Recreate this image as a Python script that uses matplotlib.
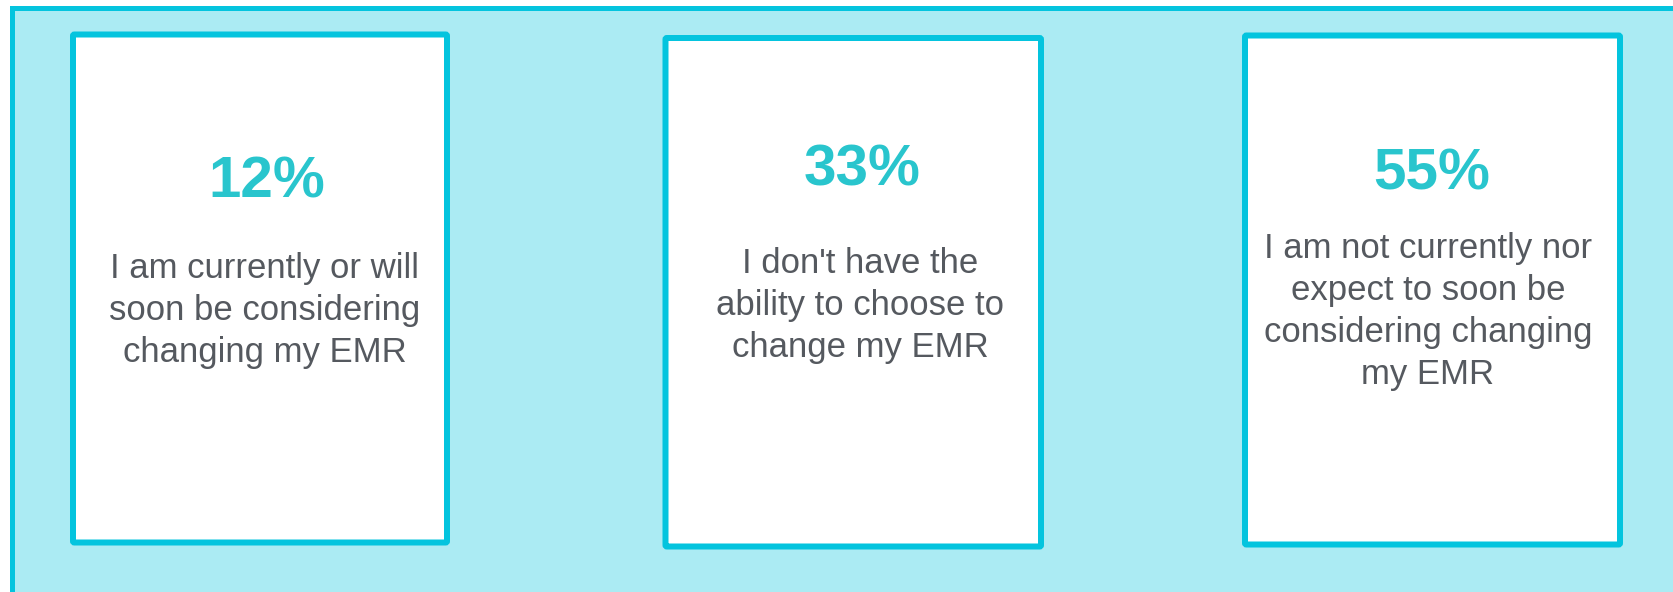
import matplotlib
matplotlib.use("Agg")
import matplotlib.pyplot as plt
from matplotlib.patches import Rectangle, FancyBboxPatch

# Data
percent_labels = ["12%", "33%", "55%"]
descriptions = [
    ["I am currently or will", "soon be considering", "changing my EMR"],
    ["I don't have the", "ability to choose to", "change my EMR"],
    ["I am not currently nor", "expect to soon be", "considering changing", "my EMR"],
]

# Layout (pixels, y down)
W, H = 1673, 592
DPI = 100
card_boxes = [(73, 34.5, 447, 542.5), (665.5, 38, 1041, 546.5), (1245, 35.5, 1620, 544.5)]
pct_cx = [267, 862, 1432]
desc_cx = [265, 860, 1428]
pct_baseline = [197, 185, 190]
desc_baseline = [278, 273, 258]
line_step = 42

BG = "#ABEBF3"
BORDER = "#04C4DE"
PCT = "#29C5CD"
TXT = "#55595F"

fig = plt.figure(figsize=(W / DPI, H / DPI), dpi=DPI)
fig.patch.set_facecolor("white")
ax = fig.add_axes([0, 0, 1, 1])
ax.set_xlim(0, W)
ax.set_ylim(H, 0)
ax.axis("off")

px = 72 / DPI  # points per pixel

# outer panel
ax.add_patch(Rectangle((12.5, 7.5), 1700, 586, facecolor=BG, edgecolor=BORDER,
                       linewidth=5 * px, joinstyle="miter"))

for i, (x0, y0, x1, y1) in enumerate(card_boxes):
    ax.add_patch(FancyBboxPatch((x0, y0), x1 - x0, y1 - y0,
                                boxstyle="round,pad=0,rounding_size=1.5",
                                facecolor="white", edgecolor=BORDER,
                                linewidth=6 * px))
    ax.text(pct_cx[i], pct_baseline[i], percent_labels[i], ha="center", va="baseline",
            fontsize=42, fontweight="bold", color=PCT,
            family=["Liberation Sans", "DejaVu Sans"])
    for j, line in enumerate(descriptions[i]):
        ax.text(desc_cx[i], desc_baseline[i] + j * line_step, line, ha="center",
                va="baseline", fontsize=25, color=TXT,
                family=["Liberation Sans", "DejaVu Sans"])

fig.savefig("out.png", dpi=DPI, facecolor=fig.get_facecolor())
